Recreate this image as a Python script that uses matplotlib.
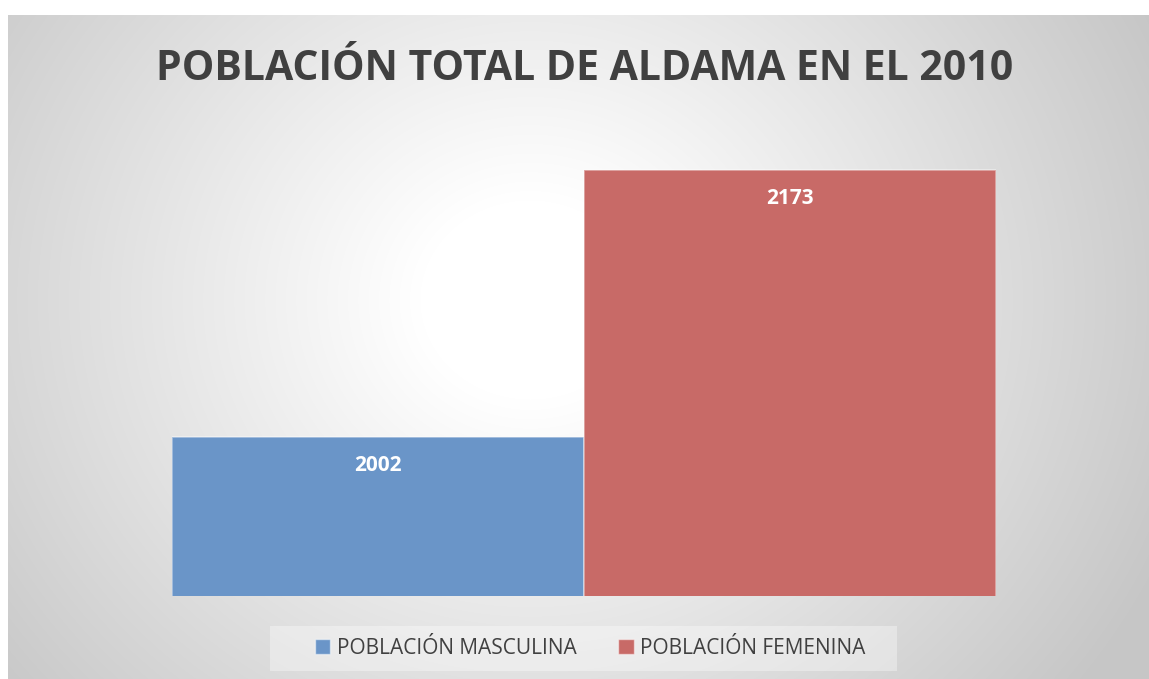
import numpy as np
import matplotlib
matplotlib.use("Agg")
import matplotlib.pyplot as plt
from matplotlib.patches import Rectangle

categorias = ["POBLACIÓN MASCULINA", "POBLACIÓN FEMENINA"]
valores = [2002, 2173]
colores = ["#6a95c8", "#c86a67"]
titulo = "POBLACIÓN TOTAL DE ALDAMA EN EL 2010"

W, H = 1149, 679
fig = plt.figure(figsize=(W / 100, H / 100), dpi=100)
fig.patch.set_facecolor("white")

# fondo con degradado radial (area del grafico: x 8..1149, y 15..679)
bg = fig.add_axes([8 / W, 0, 1 - 8 / W, 1 - 15 / H])
bg.set_axis_off()
xx, yy = np.meshgrid(np.arange(8, W), np.arange(15, H))
r = np.hypot(xx - 530, (yy - 300) * 1.1)
t = np.clip((r - 110) / 580, 0, 1)
gris = 1 - t * (1 - 0.78)
img = np.dstack([gris, gris, gris])
bg.imshow(img, aspect="auto", interpolation="bilinear")

# caja de la leyenda
fig.patches.append(Rectangle((270 / W, 1 - 671 / H), 627 / W, 45 / H,
                             transform=fig.transFigure, facecolor="white",
                             alpha=0.35, edgecolor="none", zorder=1))

ax = fig.add_axes([172 / W, 1 - 596 / H, 824 / W, (596 - 127.6) / H])
ax.patch.set_alpha(0)
x = np.arange(len(valores))
barras = ax.bar(x, valores, width=1.0, color=colores,
                edgecolor=(1, 1, 1, 0.45), linewidth=1.2)
ax.set_xlim(-0.5, 1.5)
ax.set_ylim(1900, 2200)
ax.set_axis_off()

for b, v in zip(barras, valores):
    ax.annotate(str(v), (b.get_x() + b.get_width() / 2, v),
                xytext=(0, -29), textcoords="offset pixels",
                ha="center", va="center", color="white",
                fontsize=15, fontweight="bold", family="Open Sans")

fig.text(585 / W, 1 - 69 / H, titulo, ha="center", va="center",
         fontsize=29.5, fontweight="bold", color="#404040", family="Open Sans")

handles = [Rectangle((0, 0), 1, 1, facecolor=c, edgecolor=(1, 1, 1, 0.5))
           for c in colores]
leg = fig.legend(handles, categorias, loc="center", ncol=2,
                 bbox_to_anchor=(590 / W, 1 - 648 / H), frameon=False,
                 prop={"family": "Open Sans", "size": 15},
                 handlelength=0.75, handleheight=0.75, handletextpad=0.3,
                 columnspacing=2.0, borderpad=0)
for txt in leg.get_texts():
    txt.set_color("#404040")

fig.savefig("out.png", dpi=100)
